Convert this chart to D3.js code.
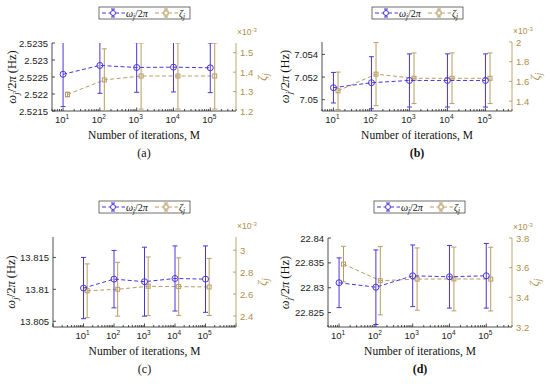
<!DOCTYPE html>
<html>
<head>
<meta charset="utf-8">
<script src="https://cdn.jsdelivr.net/npm/d3@7"></script>
<style>
  body { margin: 0; background: #fff; }
  svg { display: block; font-family: "Liberation Sans", Arial, sans-serif; }
  .serif { font-family: "Liberation Serif", "DejaVu Serif", serif; }
</style>
</head>
<body>
<svg id="chart" width="550" height="384"></svg>
<script>
// iterations M (same for every panel)
const iterations = [10, 100, 1000, 10000, 100000];

// (a)
const freqA = [2.52258, 2.52284, 2.52278, 2.52279, 2.52277];
const freqErrA = [0.00095, 0.00082, 0.00073, 0.00073, 0.00073];
const dampA = [1.285, 1.36, 1.38, 1.38, 1.38];
const dampErrA = [0.012, 0.16, 0.17, 0.17, 0.17];

// (b)
const freqB = [7.05106, 7.0515, 7.0517, 7.0517, 7.0517];
const freqErrB = [0.00135, 0.0023, 0.00235, 0.00235, 0.00235];
const dampB = [1.505, 1.674, 1.632, 1.632, 1.632];
const dampErrB = [0.19, 0.32, 0.257, 0.257, 0.257];

// (c)
const freqC = [13.8102, 13.8116, 13.8112, 13.8117, 13.8116];
const freqErrC = [0.0048, 0.0045, 0.0054, 0.0051, 0.0052];
const dampC = [2.63, 2.644, 2.671, 2.668, 2.665];
const dampErrC = [0.245, 0.245, 0.267, 0.262, 0.26];

// (d)
const freqD = [22.831, 22.8301, 22.8324, 22.8322, 22.8324];
const freqErrD = [0.005, 0.0075, 0.0062, 0.0063, 0.0065];
const dampD = [3.624, 3.512, 3.523, 3.524, 3.523];
const dampErrD = [0.12, 0.23, 0.21, 0.215, 0.215];

// tick labels
const xTickExps = [1, 2, 3, 4, 5];
const freqTicksA = [2.5215, 2.522, 2.5225, 2.523, 2.5235];
const dampTicksA = [1.2, 1.3, 1.4, 1.5];
const freqTicksB = [7.05, 7.052, 7.054];
const dampTicksB = [1.4, 1.6, 1.8, 2];
const freqTicksC = [13.805, 13.81, 13.815];
const dampTicksC = [2.4, 2.6, 2.8, 3];
const freqTicksD = [22.825, 22.83, 22.835, 22.84];
const dampTicksD = [3.2, 3.4, 3.6, 3.8];

const blue = "#4b35d9";
const tan = "#b89d63";
const tanAxis = "#ad8f4f";
const brownShift = 1.32; // damping points drawn a bit right of the frequency ones

const panels = [
  { tag: "(a)", bold: false, freq: freqA, freqErr: freqErrA, damp: dampA, dampErr: dampErrA,
    yDom: [2.5215, 2.5235], rDom: [1.2, 1.55], xDom: [5, 5e5], yTicks: freqTicksA, rTicks: dampTicksA,
    box: [52, 236, 43, 111], ylabX: 16, rlabX: 266, legend: [99, 7] },
  { tag: "(b)", bold: true, freq: freqB, freqErr: freqErrB, damp: dampB, dampErr: dampErrB,
    yDom: [7.049, 7.0551], rDom: [1.3, 2], xDom: [5, 5e5], yTicks: freqTicksB, rTicks: dampTicksB,
    box: [322, 512, 42, 111], ylabX: 289, rlabX: 539, legend: [372, 7] },
  { tag: "(c)", bold: false, freq: freqC, freqErr: freqErrC, damp: dampC, dampErr: dampErrC,
    yDom: [13.8041, 13.8182], rDom: [2.3, 3.12], xDom: [1, 1e6], yTicks: freqTicksC, rTicks: dampTicksC,
    box: [53, 236, 237, 327], ylabX: 15, rlabX: 266, legend: [99, 201] },
  { tag: "(d)", bold: true, freq: freqD, freqErr: freqErrD, damp: dampD, dampErr: dampErrD,
    yDom: [22.8221, 22.84], rDom: [3.2, 3.8], xDom: [5, 5e5], yTicks: freqTicksD, rTicks: dampTicksD,
    box: [328, 512, 238, 327], ylabX: 289, rlabX: 538, legend: [374, 201] },
];

const svg = d3.select("#chart");

// omega_j / 2pi  as rich text
const omegaLabel = (sel, withUnit) => {
  sel.append("tspan").attr("font-style", "italic").text("ω");
  sel.append("tspan").attr("font-style", "italic").attr("font-size", "0.72em").attr("dy", 2.5).text("j");
  sel.append("tspan").attr("dy", -2.5).text("/2");
  sel.append("tspan").attr("font-style", "italic").text("π");
  if (withUnit) sel.append("tspan").text(" (Hz)");
};
const zetaLabel = (sel) => {
  sel.append("tspan").attr("font-style", "italic").text("ζ");
  sel.append("tspan").attr("font-style", "italic").attr("font-size", "0.72em").attr("dy", 2.5).text("j");
};

const drawSeries = (g, x, y, xs, vals, errs, color, marker) => {
  const pts = xs.map((m, i) => ({ x: x(m), v: vals[i], e: errs[i] }));
  g.append("path")
    .attr("d", d3.line().x((d) => d.x).y((d) => y(d.v))(pts))
    .attr("fill", "none")
    .attr("stroke", color)
    .attr("stroke-width", 1)
    .attr("stroke-dasharray", "4,2.5");
  const bars = g.selectAll(null).data(pts).join("g").attr("stroke", color).attr("stroke-width", 1);
  bars.append("line").attr("x1", (d) => d.x).attr("x2", (d) => d.x)
    .attr("y1", (d) => y(d.v - d.e)).attr("y2", (d) => y(d.v + d.e));
  bars.append("line").attr("x1", (d) => d.x - 2.5).attr("x2", (d) => d.x + 2.5)
    .attr("y1", (d) => y(d.v - d.e)).attr("y2", (d) => y(d.v - d.e));
  bars.append("line").attr("x1", (d) => d.x - 2.5).attr("x2", (d) => d.x + 2.5)
    .attr("y1", (d) => y(d.v + d.e)).attr("y2", (d) => y(d.v + d.e));
  if (marker === "circle") {
    bars.append("circle").attr("cx", (d) => d.x).attr("cy", (d) => y(d.v)).attr("r", 3).attr("fill", "none");
  } else {
    bars.append("rect").attr("x", (d) => d.x - 2).attr("y", (d) => y(d.v) - 2)
      .attr("width", 4).attr("height", 4).attr("fill", "none");
  }
};

const drawLegendEntry = (g, x0, cy, color, marker) => {
  g.append("line").attr("x1", x0).attr("x2", x0 + 23).attr("y1", cy).attr("y2", cy)
    .attr("stroke", color).attr("stroke-dasharray", "4,2.5");
  const mx = x0 + 11;
  g.append("line").attr("x1", mx).attr("x2", mx).attr("y1", cy - 4).attr("y2", cy + 4).attr("stroke", color);
  g.append("line").attr("x1", mx - 2).attr("x2", mx + 2).attr("y1", cy - 4).attr("y2", cy - 4).attr("stroke", color);
  g.append("line").attr("x1", mx - 2).attr("x2", mx + 2).attr("y1", cy + 4).attr("y2", cy + 4).attr("stroke", color);
  if (marker === "circle") {
    g.append("circle").attr("cx", mx).attr("cy", cy).attr("r", 2.5).attr("fill", "#fff").attr("stroke", color);
  } else {
    g.append("rect").attr("x", mx - 2).attr("y", cy - 2).attr("width", 4).attr("height", 4)
      .attr("fill", "#fff").attr("stroke", color);
  }
};

panels.forEach((p, idx) => {
  const [l, r, t, b] = p.box;
  const x = d3.scaleLog().domain(p.xDom).range([l, r]);
  const y = d3.scaleLinear().domain(p.yDom).range([b, t]);
  const yr = d3.scaleLinear().domain(p.rDom).range([b, t]);
  const g = svg.append("g");

  const clipId = `clip${idx}`;
  svg.append("clipPath").attr("id", clipId)
    .append("rect").attr("x", l).attr("y", t).attr("width", r - l).attr("height", b - t);

  // x axis with log minor ticks, inward
  const minor = [];
  for (let k = -1; k <= 6; k++) {
    for (let m = 1; m <= 9; m++) {
      const v = m * Math.pow(10, k);
      if (v >= p.xDom[0] && v <= p.xDom[1]) minor.push({ v, major: m === 1 });
    }
  }
  g.append("g").attr("stroke", "#222").attr("stroke-width", 0.8)
    .selectAll("line").data(minor).join("line")
    .attr("x1", (d) => x(d.v)).attr("x2", (d) => x(d.v))
    .attr("y1", b).attr("y2", (d) => b - (d.major ? 3.5 : 2));
  g.append("line").attr("x1", l).attr("x2", r).attr("y1", b).attr("y2", b)
    .attr("stroke", "#222").attr("stroke-width", 0.8);

  const xl = g.append("g").selectAll("text").data(xTickExps).join("text")
    .attr("x", (d) => x(Math.pow(10, d)) - 1)
    .attr("y", b + 12)
    .attr("text-anchor", "middle")
    .attr("font-size", 9.5)
    .attr("fill", "#222");
  xl.append("tspan").text("10");
  xl.append("tspan").attr("font-size", 6.5).attr("dy", -4.5).text((d) => d);

  // left axis
  g.append("line").attr("x1", l).attr("x2", l).attr("y1", t).attr("y2", b)
    .attr("stroke", "#222").attr("stroke-width", 0.8);
  g.append("g").selectAll("line").data(p.yTicks).join("line")
    .attr("x1", l).attr("x2", l + 3).attr("y1", (d) => y(d)).attr("y2", (d) => y(d))
    .attr("stroke", "#222").attr("stroke-width", 0.8);
  g.append("g").selectAll("text").data(p.yTicks).join("text")
    .attr("x", l - 4).attr("y", (d) => y(d) + 3.5)
    .attr("text-anchor", "end").attr("font-size", 9.5).attr("fill", "#222")
    .text((d) => String(d));

  // right axis
  g.append("line").attr("x1", r).attr("x2", r).attr("y1", t).attr("y2", b)
    .attr("stroke", tanAxis).attr("stroke-width", 0.8);
  g.append("g").selectAll("line").data(p.rTicks).join("line")
    .attr("x1", r - 3).attr("x2", r).attr("y1", (d) => yr(d)).attr("y2", (d) => yr(d))
    .attr("stroke", tanAxis).attr("stroke-width", 0.8);
  g.append("g").selectAll("text").data(p.rTicks).join("text")
    .attr("x", r + 4).attr("y", (d) => yr(d) + 3.5)
    .attr("font-size", 9.5).attr("fill", tanAxis)
    .text((d) => String(d));
  const ex = g.append("text").attr("x", r + 1).attr("y", t - 8).attr("font-size", 8.5).attr("fill", tanAxis);
  ex.append("tspan").text("×10");
  ex.append("tspan").attr("font-size", 6).attr("dy", -3.5).text("-3");

  // data
  const plot = g.append("g").attr("clip-path", `url(#${clipId})`);
  drawSeries(plot, x, yr, iterations.map((m) => m * brownShift), p.damp, p.dampErr, tan, "square");
  drawSeries(plot, x, y, iterations, p.freq, p.freqErr, blue, "circle");

  // axis labels
  const midY = (t + b) / 2;
  const yl = g.append("text").attr("class", "serif")
    .attr("transform", `translate(${p.ylabX},${midY}) rotate(-90)`)
    .attr("text-anchor", "middle").attr("font-size", 12.5).attr("fill", "#111");
  omegaLabel(yl, true);
  const rl = g.append("text").attr("class", "serif")
    .attr("transform", `translate(${p.rlabX},${midY}) rotate(-90)`)
    .attr("text-anchor", "middle").attr("font-size", 13).attr("fill", tanAxis);
  zetaLabel(rl);

  g.append("text").attr("class", "serif")
    .attr("x", (l + r) / 2).attr("y", b + 28)
    .attr("text-anchor", "middle").attr("font-size", 11.5).attr("fill", "#111")
    .text("Number of iterations, M");
  g.append("text").attr("class", "serif")
    .attr("x", (l + r) / 2).attr("y", b + 46)
    .attr("text-anchor", "middle").attr("font-size", 12).attr("fill", "#111")
    .attr("font-weight", p.bold ? "bold" : "normal")
    .text(p.tag);

  // legend
  const [lx, ly] = p.legend;
  const lg = g.append("g");
  lg.append("rect").attr("x", lx).attr("y", ly).attr("width", 91).attr("height", 12)
    .attr("fill", "#fff").attr("stroke", "#333").attr("stroke-width", 0.7);
  const cy = ly + 6;
  drawLegendEntry(lg, lx + 3, cy, blue, "circle");
  const t1 = lg.append("text").attr("class", "serif").attr("x", lx + 27).attr("y", cy + 3.5)
    .attr("font-size", 10).attr("fill", "#111");
  omegaLabel(t1, false);
  drawLegendEntry(lg, lx + 56, cy, tan, "square");
  const t2 = lg.append("text").attr("class", "serif").attr("x", lx + 80).attr("y", cy + 3.5)
    .attr("font-size", 10).attr("fill", "#111");
  zetaLabel(t2);
});
</script>
</body>
</html>
